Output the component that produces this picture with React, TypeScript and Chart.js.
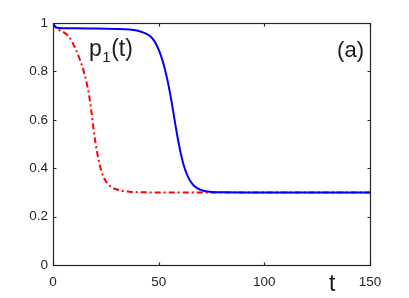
import React, { useEffect, useRef } from "react";
import { Chart, registerables } from "chart.js";

Chart.register(...registerables);

// Time samples and values for the blue (solid) curve
const T_BLUE = [0, 1, 2, 5, 10, 20, 30, 34, 38, 41, 44, 46, 48, 50, 52, 54, 56, 58, 60, 62, 64, 66, 68, 70, 74, 80, 90, 150];
const P_BLUE = [1.0, 0.985, 0.98, 0.978, 0.978, 0.977, 0.975, 0.974, 0.971, 0.966, 0.956, 0.945, 0.925, 0.89, 0.84, 0.77, 0.68, 0.575, 0.48, 0.408, 0.362, 0.334, 0.3185, 0.31, 0.303, 0.3005, 0.3, 0.3];

// Time samples and values for the red (dash-dot) curve
const T_RED = [0, 1, 2, 3, 5, 7, 8, 10, 11, 12, 13, 14, 15, 16, 17, 18, 19, 20, 21, 22, 23, 24, 25, 26, 28, 30, 33, 36, 40, 50, 150];
const P_RED = [1.0, 0.985, 0.975, 0.97, 0.962, 0.948, 0.938, 0.905, 0.886, 0.865, 0.842, 0.816, 0.786, 0.75, 0.705, 0.645, 0.575, 0.512, 0.46, 0.418, 0.385, 0.362, 0.346, 0.334, 0.32, 0.313, 0.306, 0.303, 0.301, 0.3, 0.3];

const X_TICKS = [0, 50, 100, 150];
const Y_TICKS = [0, 0.2, 0.4, 0.6, 0.8, 1];
const X_TICK_LABELS = ["0", "50", "100", "150"];
const Y_TICK_LABELS = ["0", "0.2", "0.4", "0.6", "0.8", "1"];

const AXIS_COLOR = "#262626";
const FONT = "'Liberation Sans', Arial, Helvetica, sans-serif";

const boxPlugin = {
  id: "matlabBox",
  afterDraw(chart: any) {
    const { ctx, chartArea } = chart;
    const xs = chart.scales.x;
    const ys = chart.scales.y;
    const L = Math.round(chartArea.left) + 0.5;
    const R = Math.round(chartArea.right) + 0.5;
    const T = Math.round(chartArea.top) + 0.5;
    const B = Math.round(chartArea.bottom) + 0.5;
    ctx.save();
    ctx.strokeStyle = AXIS_COLOR;
    ctx.lineWidth = 1.2;
    ctx.setLineDash([]);
    ctx.strokeRect(L, T, R - L, B - T);
    const tl = 3;
    ctx.beginPath();
    X_TICKS.forEach((v) => {
      const px = Math.round(xs.getPixelForValue(v)) + 0.5;
      ctx.moveTo(px, B);
      ctx.lineTo(px, B - tl);
      ctx.moveTo(px, T);
      ctx.lineTo(px, T + tl);
    });
    Y_TICKS.forEach((v) => {
      const py = Math.round(ys.getPixelForValue(v)) + 0.5;
      ctx.moveTo(L, py);
      ctx.lineTo(L + tl, py);
      ctx.moveTo(R, py);
      ctx.lineTo(R - tl, py);
    });
    ctx.stroke();

    // annotations
    ctx.fillStyle = "#1a1a1a";
    ctx.textBaseline = "alphabetic";
    ctx.textAlign = "left";
    ctx.font = `23px ${FONT}`;
    const px0 = 89;
    const base = 56;
    ctx.fillText("p", px0, base);
    const pw = ctx.measureText("p").width;
    ctx.font = `15px ${FONT}`;
    ctx.fillText("1", px0 + pw + 0.5, base + 6);
    const sw = ctx.measureText("1").width;
    ctx.font = `23px ${FONT}`;
    ctx.fillText("(t)", px0 + pw + sw + 1, base);

    ctx.textAlign = "right";
    ctx.font = `22px ${FONT}`;
    ctx.fillText("(a)", 364, 57);

    ctx.textAlign = "left";
    ctx.font = `23px ${FONT}`;
    ctx.fillText("t", 329, 291);
    ctx.restore();
  },
};

export default function App() {
  const canvasRef = useRef<HTMLCanvasElement | null>(null);

  useEffect(() => {
    const canvas = canvasRef.current;
    if (!canvas) return;
    const chart = new Chart(canvas, {
      type: "line",
      data: {
        datasets: [
          {
            label: "blue",
            data: T_BLUE.map((t, i) => ({ x: t, y: P_BLUE[i] })),
            borderColor: "#0000ff",
            borderWidth: 2,
            pointRadius: 0,
            fill: false,
            cubicInterpolationMode: "monotone",
          },
          {
            label: "red",
            data: T_RED.map((t, i) => ({ x: t, y: P_RED[i] })),
            borderColor: "#ff0000",
            borderWidth: 2,
            borderDash: [6, 3, 2, 3],
            pointRadius: 0,
            fill: false,
            cubicInterpolationMode: "monotone",
          },
        ],
      },
      options: {
        responsive: false,
        animation: false,
        events: [],
        layout: { padding: { left: 0, top: 23, right: 39, bottom: 0 } },
        plugins: {
          legend: { display: false },
          tooltip: { enabled: false },
          title: { display: false },
        },
        scales: {
          x: {
            type: "linear",
            min: 0,
            max: 150,
            grid: { display: false, drawTicks: false },
            border: { display: false },
            afterBuildTicks: (s: any) => {
              s.ticks = X_TICKS.map((v) => ({ value: v }));
            },
            afterFit: (s: any) => {
              s.height = 33;
            },
            ticks: {
              color: AXIS_COLOR,
              font: { family: FONT, size: 13.5 },
              padding: 9,
              maxRotation: 0,
              callback: (v: any) => {
                const i = X_TICKS.indexOf(Number(v));
                return i >= 0 ? X_TICK_LABELS[i] : "";
              },
            },
          },
          y: {
            type: "linear",
            min: 0,
            max: 1,
            grid: { display: false, drawTicks: false },
            border: { display: false },
            afterBuildTicks: (s: any) => {
              s.ticks = Y_TICKS.map((v) => ({ value: v }));
            },
            afterFit: (s: any) => {
              s.width = 53;
            },
            ticks: {
              color: AXIS_COLOR,
              font: { family: FONT, size: 13.5 },
              padding: 5,
              callback: (v: any) => {
                const i = Y_TICKS.findIndex((t) => Math.abs(t - Number(v)) < 1e-9);
                return i >= 0 ? Y_TICK_LABELS[i] : "";
              },
            },
          },
        },
      },
      plugins: [boxPlugin],
    });
    return () => chart.destroy();
  }, []);

  return (
    <div style={{ position: "absolute", left: 0, top: 0, width: 409, height: 298, background: "#fff" }}>
      <canvas ref={canvasRef} width={409} height={298} style={{ width: 409, height: 298 }} />
    </div>
  );
}
